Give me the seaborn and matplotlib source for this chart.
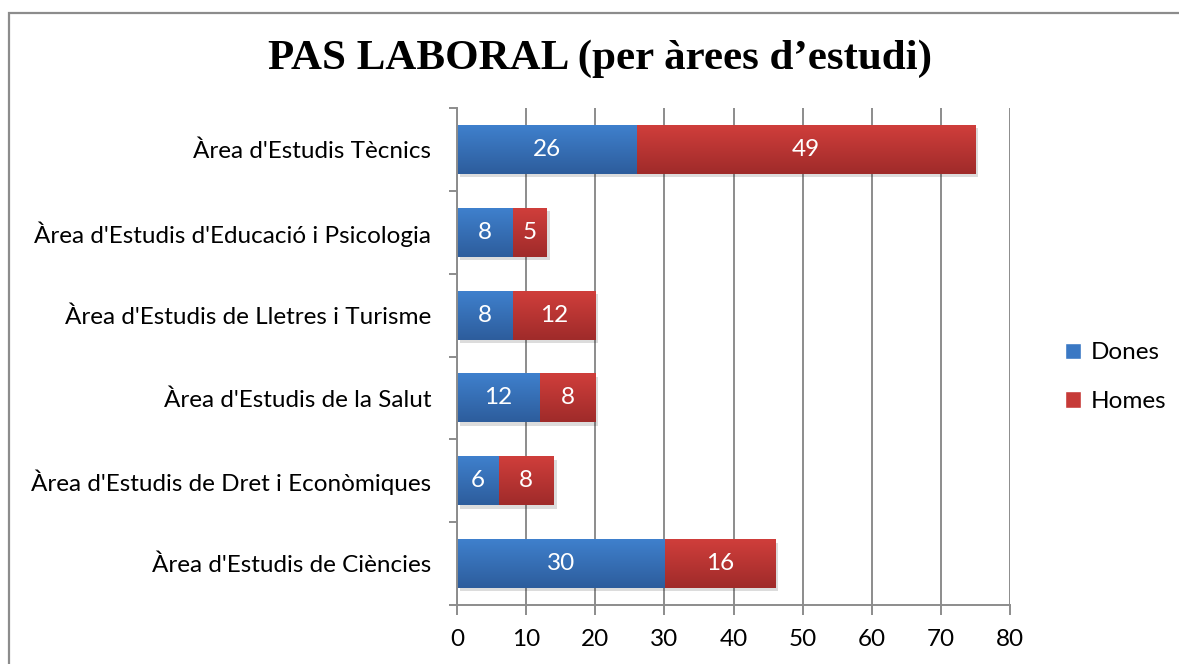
import numpy as np
import pandas as pd
import matplotlib
matplotlib.use("Agg")
import matplotlib.pyplot as plt
import seaborn as sns
from matplotlib import patheffects
from matplotlib.patches import Rectangle, Patch
from matplotlib.colors import to_rgb

# dades (de dalt a baix)
arees = ["Àrea d'Estudis Tècnics",
         "Àrea d'Estudis d'Educació i Psicologia",
         "Àrea d'Estudis de Lletres i Turisme",
         "Àrea d'Estudis de la Salut",
         "Àrea d'Estudis de Dret i Econòmiques",
         "Àrea d'Estudis de Ciències"]
dones = [26, 8, 8, 12, 6, 30]
homes = [49, 5, 12, 8, 8, 16]
series = ["Dones", "Homes"]
xticks = list(range(0, 90, 10))

df = pd.DataFrame({"area": arees, "Dones": dones, "Homes": homes})
df["total"] = df["Dones"] + df["Homes"]

sns.set_theme(style="white")
plt.rcParams['font.family'] = ['Lato', 'DejaVu Sans']
plt.rcParams['text.color'] = 'black'
plt.rcParams['xtick.labelcolor'] = 'black'
plt.rcParams['ytick.labelcolor'] = 'black'

blue = "#3a78c4"
red = "#c63a37"
grad = {blue: ("#3f80cd", "#2d5d9c"), red: ("#cf3e3b", "#a02b2a")}
fs = 17.5

fig = plt.figure(figsize=(11.79, 6.64), dpi=100)
ax = fig.add_axes([0.3876, 0.0889, 0.4691, 0.7484])

# primer el total (vermell), després dones (blau) a sobre
sns.barplot(data=df, y="area", x="total", color=red, width=0.59, ax=ax,
            saturation=1, orient="h")
sns.barplot(data=df, y="area", x="Dones", color=blue, width=0.59, ax=ax,
            saturation=1, orient="h")

ax.set_xlim(0, 80)
ax.set_ylim(len(arees) - 0.5, -0.5)

# degradat + ombra
shadow = [patheffects.SimplePatchShadow(offset=(2, -2.5), alpha=0.15, shadow_rgbFace="k")]
for i, p in enumerate(list(ax.patches)):
    c = blue if i >= len(arees) else red
    top, bot = np.array(to_rgb(grad[c][0])), np.array(to_rgb(grad[c][1]))
    t = np.linspace(0, 1, 50)[:, None, None]
    img = top * (1 - t) + bot * t
    x0, y0, w, h = p.get_x(), p.get_y(), p.get_width(), p.get_height()
    if i < len(arees):
        p.set_path_effects(shadow)
    p.set_edgecolor("none")
    im = ax.imshow(img, extent=(x0, x0 + w, y0 + h, y0), aspect="auto",
                   origin="upper", zorder=p.get_zorder() + 0.1, interpolation="bilinear")
    im.set_clip_path(p)

ax.set_xlim(0, 80)
ax.set_ylim(len(arees) - 0.5, -0.5)

# etiquetes dins les barres
for i in range(len(arees)):
    ax.text(dones[i] / 2, i, str(dones[i]), ha="center", va="center",
            color="white", fontsize=fs, zorder=10)
    ax.text(dones[i] + homes[i] / 2, i, str(homes[i]), ha="center", va="center",
            color="white", fontsize=fs, zorder=10)

# eixos
ax.set_xticks(xticks)
ax.set_xticklabels([str(v) for v in xticks], fontsize=fs)
ax.xaxis.grid(True, color="#8c8c8c", lw=1.4)
ax.set_axisbelow(True)
ax.tick_params(axis="x", length=7, width=1.4, color="#8c8c8c", pad=10,
               bottom=True, direction="out")
ax.set_yticks(range(len(arees)))
ax.set_yticklabels(arees, fontsize=fs)
ax.set_yticks(np.arange(-0.5, len(arees), 1), minor=True)
ax.tick_params(axis="y", which="major", length=0, pad=18.5)
ax.tick_params(axis="y", which="minor", length=6, width=1.4, color="#8c8c8c",
               left=True, direction="out")
ax.set_xlabel("")
ax.set_ylabel("")
for s in ["top", "right"]:
    ax.spines[s].set_visible(False)
for s in ["left", "bottom"]:
    ax.spines[s].set_color("#8c8c8c")
    ax.spines[s].set_linewidth(1.4)

fig.text(0.509, 0.912, "PAS LABORAL (per àrees d’estudi)", ha="center",
         va="center", fontsize=31, fontweight="bold", color="black",
         family=["Liberation Serif", "DejaVu Serif"])

handles = [Patch(facecolor=blue, label=series[0]), Patch(facecolor=red, label=series[1])]
fig.legend(handles=handles, loc="center left", bbox_to_anchor=(0.885, 0.432),
           frameon=False, fontsize=fs, handlelength=0.65, handleheight=0.65,
           labelspacing=1.15, handletextpad=0.4)

# vora del gràfic
fig.add_artist(Rectangle((9 / 1179, -0.1), 1.2, 0.1 + (664 - 13) / 664,
                         transform=fig.transFigure, fill=False,
                         edgecolor="#8c8c8c", lw=1.6))

fig.savefig("out.png", dpi=100)
